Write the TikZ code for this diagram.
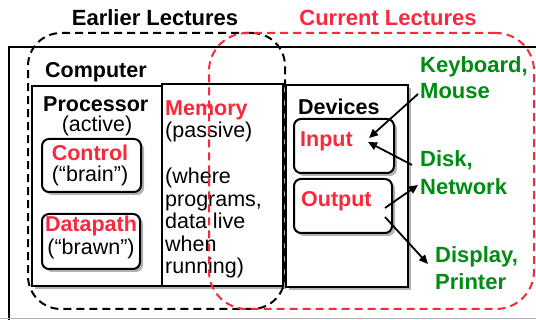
\documentclass[tikz,border=0pt]{standalone}
\usepackage{fontspec}
\setmainfont{Liberation Sans}
\usetikzlibrary{shadows,arrows.meta}
\definecolor{lred}{RGB}{250,40,60}
\definecolor{lgreen}{RGB}{0,140,20}
\begin{document}
\begin{tikzpicture}[x=1pt,y=-1pt,
  frame/.style={draw=black, line width=2pt, fill=white, inner sep=0pt, anchor=north west},
  shbox/.style={frame, drop shadow={shadow xshift=3pt, shadow yshift=-3pt, opacity=0.3, fill=black}},
  rbox/.style={shbox, rounded corners=7pt},
  lectures/.style={draw, line width=2pt, dash pattern=on 8pt off 5pt, inner sep=0pt, anchor=north west},
  txt/.style={inner sep=0pt, anchor=base west, font=\fontsize{21.5}{22.5}\selectfont},
  btxt/.style={txt, font=\fontsize{21.5}{22.5}\selectfont\bfseries},
  rtxt/.style={btxt, text=lred},
  gtxt/.style={inner sep=0pt, anchor=base west, text=lgreen, align=left, font=\fontsize{22}{26}\selectfont\bfseries},
  ttl/.style={inner sep=0pt, anchor=base, font=\fontsize{22}{24}\selectfont\bfseries},
  arr/.style={line width=1.8pt, -{Triangle[length=9pt,width=8pt]}}
]
\useasboundingbox (0,0) rectangle (536,320);
\begin{scope}
\clip (0,0) rectangle (536,320);
\node[frame, minimum width=560pt, minimum height=290pt] (computer) at (8,46) {};
\draw[black!30, line width=1pt] (0,318.5) -- (536,318.5);
\node[shbox, minimum width=130pt, minimum height=200pt] (proc) at (31,85) {};
\node[shbox, minimum width=121pt, minimum height=202pt] (mem) at (161,83) {};
\node[shbox, minimum width=122pt, minimum height=202pt] (dev) at (285,84) {};
\node[rbox, minimum width=99pt, minimum height=53pt] (ctrl) at (41,138) {};
\node[rbox, minimum width=98pt, minimum height=55pt] (dp) at (41,213) {};
\node[rbox, minimum width=100pt, minimum height=54pt] (in) at (293,118) {};
\node[rbox, minimum width=98pt, minimum height=54pt] (out) at (293,178) {};

\node[btxt] (tcomp) at (45,78) {Computer};
\node[btxt] (tproc) at (43,112) {Processor};
\node[txt, anchor=base] (tact) at (97,132) {(active)};
\node[rtxt, anchor=base] (tctrl) at (90,161) {Control};
\node[txt, anchor=base] (tbrain) at (90,182) {(“brain”)};
\node[rtxt, anchor=base] (tdp) at (91,232) {Datapath};
\node[txt, anchor=base] (tbrawn) at (91,255) {(“brawn”)};
\node[rtxt] (tmem) at (165,116) {Memory};
\node[txt] (tpas) at (165,138) {(passive)};
\node[txt, align=left, anchor=north west] (twhere) at (165,168) {(where\\programs,\\data live\\when\\running)};
\node[btxt] (tdev) at (298,115) {Devices};
\node[rtxt] (tin) at (300,147) {Input};
\node[rtxt] (tout) at (301,207) {Output};

\node[gtxt] (kb) at (420,73) {Keyboard,};
\node[gtxt] (mouse) at (420,99) {Mouse};
\node[gtxt] (disk) at (420,167) {Disk,};
\node[gtxt] (net) at (420,195) {Network};
\node[gtxt] (disp) at (435,263) {Display,};
\node[gtxt] (prn) at (435,290) {Printer};

\coordinate (a1s) at (418,94);
\coordinate (a1e) at (369,138);
\coordinate (a2s) at (412,165);
\coordinate (a2e) at (368,142);
\coordinate (a3s) at (385,208);
\coordinate (a3e) at (418,185);
\coordinate (a4s) at (385,217);
\coordinate (a4e) at (428,264);
\draw[arr] (a1s) -- (a1e);
\draw[arr] (a2s) -- (a2e);
\draw[arr] (a3s) -- (a3e);
\draw[arr] (a4s) -- (a4e);

\node[lectures, minimum width=257pt, minimum height=276pt, rounded corners=33pt] (earlier) at (27,32) {};
\node[lectures, draw=lred, minimum width=325pt, minimum height=276pt, rounded corners=38pt] (current) at (208,32) {};
\node[ttl] (tearlier) at (155,26) {Earlier Lectures};
\node[ttl, text=lred] (tcurrent) at (388,26) {Current Lectures};
\end{scope}
\end{tikzpicture}
\end{document}
